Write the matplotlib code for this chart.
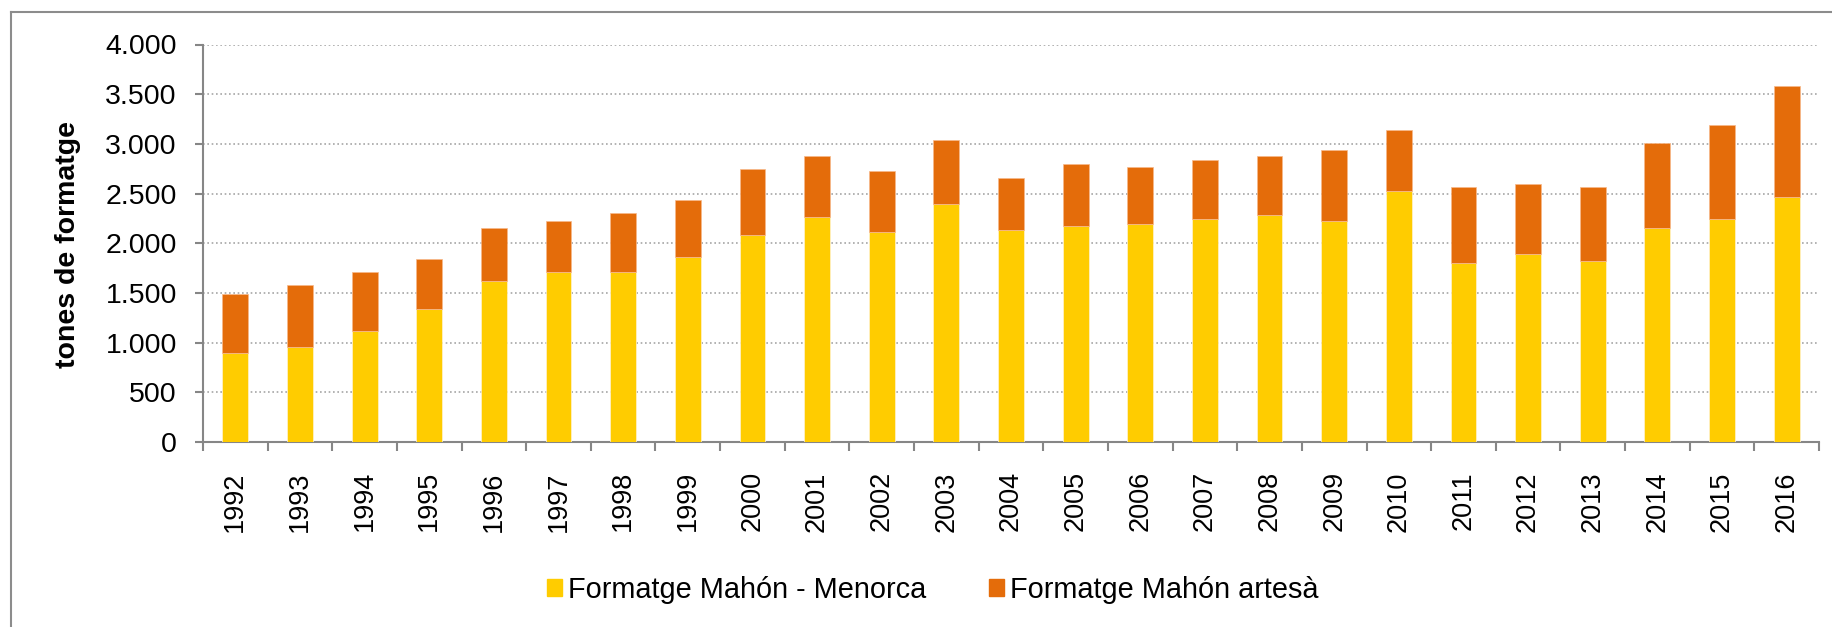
import numpy as np
import matplotlib
matplotlib.use("Agg")
import matplotlib.pyplot as plt
import matplotlib.patches as patches
from matplotlib.lines import Line2D
from matplotlib.ticker import FuncFormatter, MultipleLocator

plt.rcParams['font.family'] = ['Liberation Sans', 'DejaVu Sans']

# dades (tones de formatge)
years = [str(y) for y in range(1992, 2017)]
mahon_menorca = [895, 959, 1116, 1334, 1619, 1710, 1710, 1864, 2085, 2263, 2109, 2394, 2132,
                 2172, 2196, 2239, 2283, 2219, 2528, 1800, 1887, 1820, 2152, 2239, 2461]
mahon_artesa = [593, 617, 594, 506, 530, 509, 596, 573, 661, 617, 616, 640, 526,
                621, 573, 597, 597, 724, 616, 768, 708, 748, 858, 949, 1126]
series_names = ["Formatge Mahón - Menorca", "Formatge Mahón artesà"]

YELLOW = "#FFCC00"
ORANGE = "#E46C0A"
AXIS_GRAY = "#868686"
GRID_GRAY = "#A6A6A6"

W, H = 1832, 627
fig = plt.figure(figsize=(W / 100, H / 100), dpi=100)
ax = fig.add_axes([203 / W, 1 - 442 / H, (1819 - 203) / W, (442 - 44.5) / H])

x = np.arange(len(years))
ax.bar(x, mahon_menorca, width=0.4, color=YELLOW, edgecolor="#fff3d0", linewidth=0.5, zorder=3)
ax.bar(x, mahon_artesa, width=0.4, bottom=mahon_menorca, color=ORANGE,
       edgecolor="#f7b98a", linewidth=0.5, zorder=3)

ax.set_xlim(-0.5, len(years) - 0.5)
ax.set_ylim(0, 4000)

# eix Y
ax.yaxis.set_major_locator(MultipleLocator(500))
ax.yaxis.set_major_formatter(FuncFormatter(lambda v, p: f"{int(v):,}".replace(",", ".")))
ax.tick_params(axis="y", length=5.8, width=1.5, color=AXIS_GRAY, pad=13, labelsize=20.5)
ax.yaxis.grid(True, linestyle=(0, (1, 1.6)), color=GRID_GRAY, linewidth=1.2)
ax.set_axisbelow(True)

# eix X: etiquetes al centre, marques entre categories
ax.set_xticks(x)
ax.set_xticklabels(years, rotation=90)
ax.set_xticks(np.arange(-0.5, len(years)), minor=True)
ax.tick_params(axis="x", which="major", length=0, pad=21, labelsize=19.5)
ax.tick_params(axis="x", which="minor", length=6.5, width=1.5, color=AXIS_GRAY)

for side in ["top", "right"]:
    ax.spines[side].set_visible(False)
for side in ["left", "bottom"]:
    ax.spines[side].set_color(AXIS_GRAY)
    ax.spines[side].set_linewidth(1.5)

fig.text(68 / W, 1 - 244 / H, "tones de formatge", rotation=90, ha="center", va="center",
         fontsize=20.5, fontweight="bold")

handles = [patches.Patch(color=YELLOW, label=series_names[0]),
           patches.Patch(color=ORANGE, label=series_names[1])]
fig.legend(handles=handles, loc="center", bbox_to_anchor=(933 / W, 1 - 590 / H), ncol=2,
           frameon=False, fontsize=20.8, handlelength=0.52, handleheight=0.52,
           handletextpad=0.21, columnspacing=2.18, borderpad=0, borderaxespad=0)

# marc del gràfic
fig.add_artist(Line2D([11 / W, 11 / W], [0, 1 - 11.5 / H], transform=fig.transFigure,
                      color="#8C8C8C", linewidth=1.5))
fig.add_artist(Line2D([11 / W, 1], [1 - 11.5 / H, 1 - 11.5 / H], transform=fig.transFigure,
                      color="#8C8C8C", linewidth=1.5))

fig.savefig("out.png", dpi=100)
